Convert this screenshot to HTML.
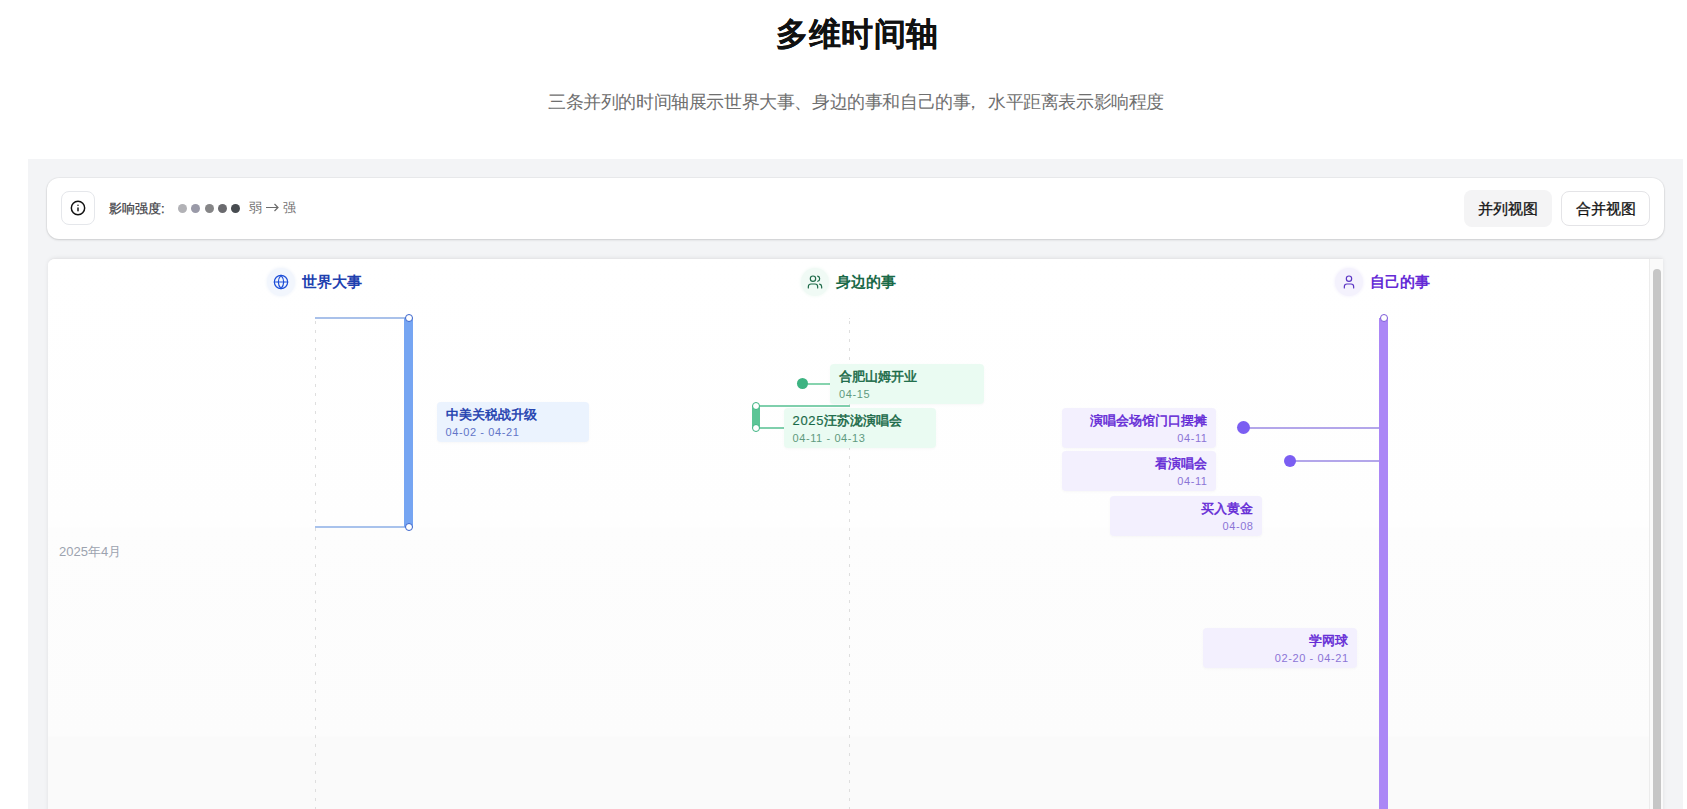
<!DOCTYPE html>
<html><head><meta charset="utf-8">
<style>
*{box-sizing:border-box;margin:0;padding:0}
html,body{width:1687px;height:809px;overflow:hidden;background:#fff;font-family:"Liberation Sans",sans-serif}
.title{position:absolute;left:1.5px;width:1712px;top:9.5px;text-align:center;font-size:32px;letter-spacing:0.5px;-webkit-text-stroke:0.15px #111;font-weight:700;color:#111;line-height:48px}
.sub{position:absolute;left:0;width:1712px;top:88px;text-align:center;font-size:18px;letter-spacing:-0.4px;color:#6f6f6f;line-height:28px}
.wrap{position:absolute;left:28px;top:159px;width:1655px;height:700px;background:#f3f4f6}
.bar{position:absolute;left:19px;top:19px;width:1617px;height:61px;background:#fff;border-radius:12px;box-shadow:0 0 0 1px rgba(0,0,0,.035),0 1px 3px rgba(0,0,0,.09),0 1px 2px rgba(0,0,0,.05)}
.info{position:absolute;left:14px;top:13px;width:34px;height:34px;border:1px solid #e5e7eb;border-radius:8px;background:#fff}
.lbl{position:absolute;left:62px;top:22px;font-size:13px;color:#3f3f46;-webkit-text-stroke:0.25px #3f3f46;line-height:18px}
.dots{position:absolute;left:131px;top:25px;height:10px}
.dots .dot{position:absolute;top:0.5px;width:9px;height:9px;border-radius:50%}
.ws{position:absolute;left:202px;top:21px;font-size:13px;color:#707070;line-height:18px}
.btn{position:absolute;top:12px;height:37px;font-size:15px;line-height:37px;color:#111;-webkit-text-stroke:0.3px #111;text-align:center;border-radius:8px}
.card{position:absolute;left:19px;top:100px;width:1616px;height:700px;background:#fff;border-radius:12px;box-shadow:0 1px 3px rgba(0,0,0,.10)}
.tl{position:absolute;left:48px;top:258px;width:1615px;height:600px;border-top:1px solid #e6e6e8;border-radius:7px 2px 0 0;overflow:hidden;background:#fff;box-shadow:0 0 4px rgba(0,0,0,.08)}
.tl>*,.pg>*{position:absolute}
.pg{left:-48px;top:-259px;width:1687px;height:809px}
.tlbg{left:0;top:0;width:1616px;height:600px;background:linear-gradient(#fff 0,#fefefe 268px,#fdfdfd 269px,#fcfcfc 477px,#fafafa 478px)}
.sb{left:1601px;top:0;width:15px;height:600px;background:#fafafa;border-left:1px solid #ececec}
.thumb{position:absolute;left:3px;top:10px;width:8px;height:600px;background:#c6c6c6;border-radius:4px}
.hd{top:268px;height:28px;line-height:28px;font-size:15px;letter-spacing:0.3px;font-weight:700;white-space:nowrap}
.hd .ic{display:inline-block;width:28px;height:28px;border-radius:50%;vertical-align:top;margin-right:6.5px;position:relative}
.hd .ic svg{position:absolute;left:6px;top:6px}
.dash{top:318px;width:1px;height:500px;background:repeating-linear-gradient(#dedede 0 3px,transparent 3px 9px);background-position:0 3px}
.month{left:59px;top:544px;font-size:13px;color:#9ca3af;line-height:16px}
.hl{height:2px}
.bar8{width:8px}
.ring{width:8px;height:8px;border:1.5px solid;border-radius:50%;background:#fff}
.dot{border-radius:50%}
.ev{height:40px;border-radius:4px;padding:4px 9px 0 9px;box-shadow:0 1px 3px rgba(0,0,0,.03)}
.ev.r{text-align:right}
.ev .t{font-size:13px;font-weight:400;-webkit-text-stroke:0.5px currentColor;line-height:18px;white-space:nowrap}
.ev .d{margin-top:-1px;font-size:11px;line-height:18px;white-space:nowrap;letter-spacing:0.6px}
.ev.r .d{margin-right:-0.6px}
</style></head><body>
<div class="title">多维时间轴</div>
<div class="sub">三条并列的时间轴展示世界大事、身边的事和自己的事<span style="position:relative;left:-6px">，</span>水平距离表示影响程度</div>
<div class="wrap">
  <div class="bar">
    <div class="info"><svg style="position:absolute;left:8px;top:8px" width="16" height="16" viewBox="0 0 24 24" fill="none" stroke="#111" stroke-width="2.2" stroke-linecap="round" stroke-linejoin="round"><circle cx="12" cy="12" r="10"/><path d="M12 16v-4"/><path d="M12 8h.01"/></svg></div>
    <div class="lbl">影响强度:</div>
    <div class="dots">
      <div class="dot" style="left:0;background:#b2b2b6"></div>
      <div class="dot" style="left:13.25px;background:#9a9aa8"></div>
      <div class="dot" style="left:26.5px;background:#858587"></div>
      <div class="dot" style="left:39.75px;background:#6a6a6e"></div>
      <div class="dot" style="left:53px;background:#474b50"></div>
    </div>
    <div class="ws">弱</div><svg style="position:absolute;left:219px;top:25px" width="13" height="9" viewBox="0 0 13 9" fill="none" stroke="#6b6b6b" stroke-width="1.2"><path d="M0 4.5H12M8.5 1L12 4.5 8.5 8"/></svg><div class="ws" style="left:236px">强</div>
    <div class="btn" style="left:1417px;width:88px;background:#f4f4f5">并列视图</div>
    <div class="btn" style="left:1514px;top:13px;height:35px;line-height:33px;width:89px;border:1px solid #e4e4e7;background:#fff">合并视图</div>
  </div>

</div>
<div class="tl">
  <div class="tlbg"></div>
  <div class="sb"><div class="thumb"></div></div>
  <div class="pg">
  <!-- headers -->
  <div class="hd" style="left:267px;color:#1e40af"><span class="ic" style="background:#f2f6fd;box-shadow:0 0 3px 1px #f4f7fc"><svg width="16" height="16" viewBox="0 0 24 24" fill="none" stroke="#1d4ed8" stroke-width="1.8" stroke-linecap="round" stroke-linejoin="round"><circle cx="12" cy="12" r="10"/><path d="M12 2a14.5 14.5 0 0 0 0 20 14.5 14.5 0 0 0 0-20"/><path d="M2 12h20"/></svg></span>世界大事</div>
  <div class="hd" style="left:801px;color:#1a6a48"><span class="ic" style="background:#f0faf5;box-shadow:0 0 3px 1px #f4fbf7"><svg width="16" height="16" viewBox="0 0 24 24" fill="none" stroke="#1f6b4a" stroke-width="1.8" stroke-linecap="round" stroke-linejoin="round"><path d="M16 21v-2a4 4 0 0 0-4-4H6a4 4 0 0 0-4 4v2"/><circle cx="9" cy="7" r="4"/><path d="M22 21v-2a4 4 0 0 0-3-3.87"/><path d="M16 3.13a4 4 0 0 1 0 7.75"/></svg></span>身边的事</div>
  <div class="hd" style="left:1335px;color:#652bd6"><span class="ic" style="background:#f4f2fd;box-shadow:0 0 3px 1px #f6f4fd"><svg width="16" height="16" viewBox="0 0 24 24" fill="none" stroke="#5b36c4" stroke-width="1.8" stroke-linecap="round" stroke-linejoin="round"><path d="M19 21v-2a4 4 0 0 0-4-4H9a4 4 0 0 0-4 4v2"/><circle cx="12" cy="7" r="4"/></svg></span>自己的事</div>
  <!-- axes -->
  <div class="dash" style="left:315px"></div>
  <div class="dash" style="left:849px"></div>
  <div class="month">2025年4月</div>
  <!-- col1 -->
  <div class="hl" style="left:315px;top:317px;width:94px;background:#a9c1ea"></div>
  <div class="hl" style="left:315px;top:526px;width:94px;background:#a8c2ec"></div>
  <div class="bar8" style="left:404px;width:9px;top:318px;height:209px;background:#76a5f2"></div>
  <div class="ring" style="left:404.5px;top:314px;border-color:#3a64cc"></div>
  <div class="ring" style="left:404.5px;top:523px;border-color:#3a64cc"></div>
  <div class="ev" style="left:436.5px;top:402px;width:152.5px;background:#ebf3fe"><div class="t" style="color:#1e40af">中美关税战升级</div><div class="d" style="color:#6275c8">04-02 - 04-21</div></div>
  <!-- col2 -->
  <div class="hl" style="left:802px;top:382.5px;width:29px;background:#86d3ae"></div>
  <div class="dot" style="left:797px;top:378px;width:11px;height:11px;background:#3cb381"></div>
  <div class="ev" style="left:830px;top:363.5px;width:154px;background:#eafbf2"><div class="t" style="color:#1a6a48">合肥山姆开业</div><div class="d" style="color:#5f9a7e">04-15</div></div>
  <div class="hl" style="left:756px;top:405px;width:94px;background:#7fcfac"></div>
  <div class="hl" style="left:756px;top:427px;width:30px;background:#7fcfac"></div>
  <div class="bar8" style="left:752px;top:406px;height:22px;background:#5cc596"></div>
  <div class="ring" style="left:751.5px;top:402px;border-color:#3cb381"></div>
  <div class="ring" style="left:751.5px;top:424px;border-color:#3cb381"></div>
  <div class="ev" style="left:783.5px;top:408px;width:152.5px;background:#eafbf2"><div class="t" style="color:#1a6a48"><span style="-webkit-text-stroke:0.15px currentColor;letter-spacing:0.7px">2025</span>汪苏泷演唱会</div><div class="d" style="color:#5f9a7e">04-11 - 04-13</div></div>
  <!-- col3 -->
  <div class="hl" style="left:1243px;top:427px;width:140px;background:#b3a6ea"></div>
  <div class="dot" style="left:1236.5px;top:421px;width:13px;height:13px;background:#7b5ef2"></div>
  <div class="hl" style="left:1290px;top:460px;width:93px;background:#b3a6ea"></div>
  <div class="dot" style="left:1284px;top:455px;width:12px;height:12px;background:#7b5ef2"></div>
  <div class="bar8" style="left:1379px;width:9px;top:318px;height:500px;background:#ab87f6"></div>
  <div class="ring" style="left:1379.5px;top:314px;border-color:#7d5bd9"></div>
  <div class="ev r" style="left:1062px;top:408px;width:154px;background:#f3f0fe"><div class="t" style="color:#652bd6">演唱会场馆门口摆摊</div><div class="d" style="color:#8b74d6">04-11</div></div>
  <div class="ev r" style="left:1062px;top:451px;width:154px;background:#f3f0fe"><div class="t" style="color:#652bd6">看演唱会</div><div class="d" style="color:#8b74d6">04-11</div></div>
  <div class="ev r" style="left:1110px;top:496px;width:152px;background:#f3f0fe"><div class="t" style="color:#652bd6">买入黄金</div><div class="d" style="color:#8b74d6">04-08</div></div>
  <div class="ev r" style="left:1202.5px;top:627.5px;width:154.5px;background:#f3f0fe"><div class="t" style="color:#652bd6">学网球</div><div class="d" style="color:#8b74d6">02-20 - 04-21</div></div>
  </div>
</div>
</body></html>
